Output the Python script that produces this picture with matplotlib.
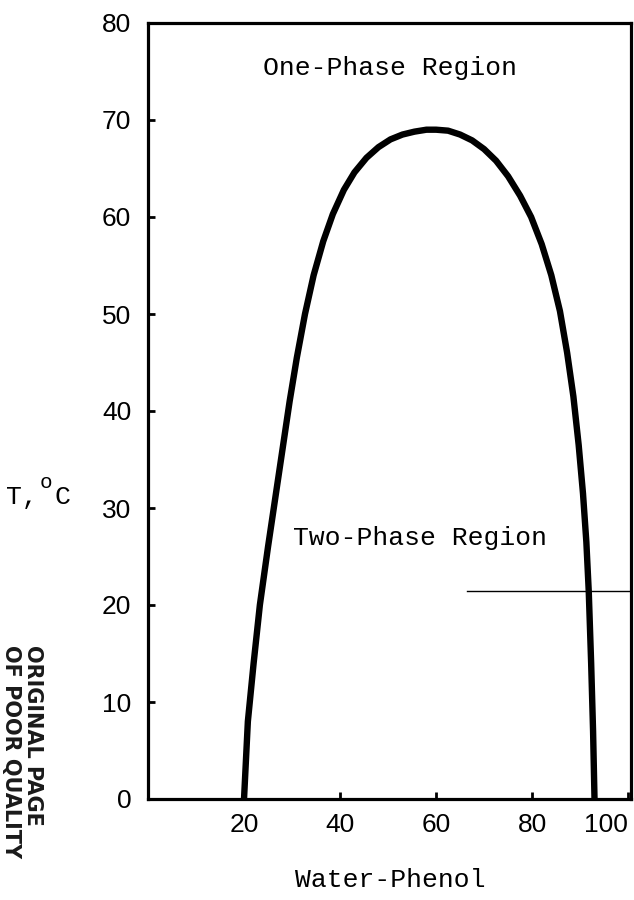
import matplotlib
matplotlib.use("Agg")
import matplotlib.pyplot as plt

# phase boundary (composition, temperature in deg C)
comp = [20.0, 20.8, 22.0, 23.3, 25.0, 26.5, 28.0, 29.5, 31.0, 32.7, 34.5,
        36.5, 38.5, 40.8, 43.0, 45.5, 48.0, 50.5, 53.0, 55.5, 58.0, 60.0,
        62.5, 65.0, 67.5, 70.0, 72.5, 75.0, 77.5, 79.8, 82.0, 84.0, 85.8,
        87.3, 88.6, 89.7, 90.6, 91.3, 91.8, 92.3, 92.7, 93.0]
temp = [0.0, 8.0, 14.0, 20.0, 26.0, 31.0, 36.0, 41.0, 45.5, 50.0, 54.0,
        57.5, 60.3, 62.8, 64.6, 66.1, 67.2, 68.0, 68.5, 68.8, 69.0, 69.0,
        68.9, 68.5, 67.9, 67.0, 65.8, 64.2, 62.2, 60.0, 57.2, 54.0, 50.3,
        46.0, 41.5, 36.5, 31.5, 26.5, 21.4, 14.0, 7.0, 0.0]

# horizontal marker line
mark_x = [66.5, 101]
mark_t = [21.4, 21.4]

xticks = [20, 40, 60, 80, 100]
yticks = [0, 10, 20, 30, 40, 50, 60, 70, 80]

mono = "Liberation Mono"
sans = "Liberation Sans"

fig = plt.figure(figsize=(6.34, 9.0), dpi=100)
ax = fig.add_axes([148 / 634, 101 / 900, 483 / 634, 776 / 900])

ax.plot(comp, temp, color="black", lw=4.6, solid_joinstyle="round",
        solid_capstyle="butt")
ax.plot(mark_x, mark_t, color="black", lw=1.0)

ax.set_xlim(0, 100.6)
ax.set_ylim(0, 80)
ax.set_xticks(xticks)
ax.set_yticks(yticks)
ax.tick_params(direction="in", length=5, width=2, labelsize=19, pad=10)
ax.tick_params(axis="y", pad=12)
for lab in ax.get_xticklabels() + ax.get_yticklabels():
    lab.set_fontfamily(sans)
ax.get_xticklabels()[-1].set_horizontalalignment("right")
for sp in ax.spines.values():
    sp.set_linewidth(2.3)

ax.text(50.5, 75.4, "One-Phase Region", family=mono, fontsize=19,
        ha="center", va="center")
ax.text(56.7, 26.9, "Two-Phase Region", family=mono, fontsize=19,
        ha="center", va="center")

fig.text(390 / 634, 1 - 880 / 900, "Water-Phenol", family=mono, fontsize=19,
         ha="center", va="center")

# y label "T, oC" with raised o
fig.text(6 / 634, 1 - 497 / 900, "T,", family=mono, fontsize=19,
         ha="left", va="center")
fig.text(40 / 634, 1 - 483 / 900, "o", family=mono, fontsize=15,
         ha="left", va="center")
fig.text(55 / 634, 1 - 497 / 900, "C", family=mono, fontsize=19,
         ha="left", va="center")

# scanner stamp on the left margin
fig.text(33 / 634, 1 - 645 / 900, "ORIGINAL PAGE", family="DejaVu Sans",
         fontweight="bold", fontsize=15, rotation=-90, ha="center", va="top",
         color="#1a1a1a")
fig.text(11 / 634, 1 - 645 / 900, "OF POOR QUALITY", family="DejaVu Sans",
         fontweight="bold", fontsize=15, rotation=-90, ha="center", va="top",
         color="#1a1a1a")

fig.savefig("out.png", dpi=100)
